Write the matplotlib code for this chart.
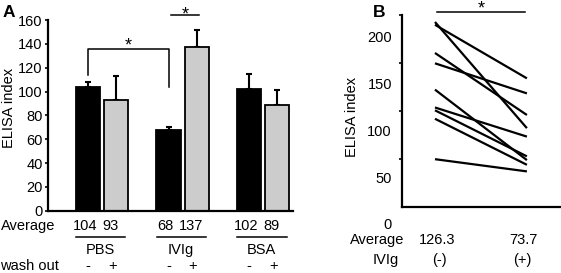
import matplotlib
matplotlib.use("Agg")
import matplotlib.pyplot as plt
import matplotlib.transforms as mtrans
import numpy as np

plt.rcParams["font.family"] = ["Liberation Sans", "DejaVu Sans"]
plt.rcParams["font.size"] = 10.5

# ── Data: panel A ────────────────────────────────────────────────────────────
groups = ["PBS", "IVIg", "BSA"]
no_wash = [104, 68, 102]
no_wash_err = [4, 2, 13]
wash = [93, 137, 89]
wash_err = [20, 15, 12]
wash_marks = ["-", "+"]

# ── Data: panel B (paired samples, before / after IVIg) ─────────────────────
ivig_minus = [216, 213, 183, 172, 144, 125, 122, 113, 70]
ivig_plus = [103, 156, 117, 140, 69, 94, 73, 64, 57]
avg_b = ["126.3", "73.7"]
ivig_marks = ["(-)", "(+)"]

W, H = 561, 273
fig = plt.figure(figsize=(W / 100, H / 100), dpi=100)


def fy(py):
    return 1 - py / H


# ── Panel A ─────────────────────────────────────────────────────────────────
axA = fig.add_axes([48.3 / W, fy(210.7), (293 - 48.3) / W, 190.7 / H])
x = np.arange(len(groups))
bw, off = 0.30, 0.175
axA.bar(x - off, no_wash, bw, color="black", edgecolor="black", lw=1.3, zorder=2)
axA.bar(x + off, wash, bw, color="#cccccc", edgecolor="black", lw=1.3, zorder=2)
for xs, vals, errs in [(x - off, no_wash, no_wash_err), (x + off, wash, wash_err)]:
    axA.errorbar(xs, vals, yerr=[np.zeros(len(vals)), errs], fmt="none",
                 ecolor="black", elinewidth=1.5, capsize=2.5, capthick=1.5, zorder=1)

axA.set_xlim(-0.667, 2.37)
axA.set_ylim(0, 160)
axA.set_yticks(range(0, 161, 20))
axA.set_xticks([])
for s in ["top", "right"]:
    axA.spines[s].set_visible(False)
for s in ["left", "bottom"]:
    axA.spines[s].set_linewidth(1.6)
axA.tick_params(axis="y", length=2.5, width=1.2, pad=1.5)

# significance brackets
axA.plot([x[0] - off, x[0] - off, x[1] - off, x[1] - off], [114, 135.6, 135.6, 103.4],
         color="black", lw=1.1, clip_on=False)
axA.text(0.32, 138.5, "*", ha="center", va="center", fontsize=13, clip_on=False)
axA.plot([0.857, 1.205], [164, 164], color="black", lw=1.1, clip_on=False)
axA.text(1.03, 164.5, "*", ha="center", va="center", fontsize=13, clip_on=False)

fig.text(9 / W, fy(108), "ELISA index", rotation=90, ha="center", va="center")
fig.text(3 / W, fy(16.7), "A", fontsize=12.5, fontweight="bold", va="baseline")

trA = mtrans.blended_transform_factory(axA.transData, fig.transFigure)
fig.text(1 / W, fy(225.7), "Average", ha="left", va="center")
fig.text(0 / W, fy(265.7), "wash out", ha="left", va="center")
for i, g in enumerate(groups):
    axA.text(x[i] - off - 0.04, fy(225.7), str(no_wash[i]), transform=trA,
             ha="center", va="center")
    axA.text(x[i] + off - 0.07, fy(225.7), str(wash[i]), transform=trA,
             ha="center", va="center")
    axA.plot([x[i] - 0.32, x[i] + 0.29], [fy(236.7)] * 2, transform=trA,
             color="black", lw=1.1, clip_on=False)
    axA.text(x[i] - 0.02, fy(250), g, transform=trA, ha="center", va="center")
    axA.text(x[i] - off, fy(265.7), wash_marks[0], transform=trA,
             ha="center", va="center")
    axA.text(x[i] + off - 0.05, fy(265.7), wash_marks[1], transform=trA,
             ha="center", va="center")

# ── Panel B ─────────────────────────────────────────────────────────────────
axB = fig.add_axes([401.7 / W, fy(207.3), (560 - 401.7) / W, (207.3 - 15) / H])
for a, b in zip(ivig_minus, ivig_plus):
    axB.plot([0, 1], [a, b], color="black", lw=1.6, solid_capstyle="butt")

axB.set_xlim(-0.362, 1.36)
axB.set_ylim(18.8, 223.4)
axB.set_xticks([])
axB.set_yticks([50, 100, 150, 200])
axB.set_yticks([70, 121, 172, 223], minor=True)
axB.tick_params(axis="y", which="major", length=0, pad=7)
axB.tick_params(axis="y", which="minor", length=2.5, width=1.2)
for s in ["top", "right"]:
    axB.spines[s].set_visible(False)
for s in ["left", "bottom"]:
    axB.spines[s].set_linewidth(1.6)

axB.plot([0.02, 0.98], [226.3, 226.3], color="black", lw=1.1, clip_on=False)
axB.text(0.5, 229.5, "*", ha="center", va="center", fontsize=13, clip_on=False)

fig.text(352 / W, fy(117), "ELISA index", rotation=90, ha="center", va="center")
fig.text(373 / W, fy(17), "B", fontsize=12.5, fontweight="bold", va="baseline")

fig.text(391.7 / W, fy(225), "0", ha="right", va="center")
fig.text(377 / W, fy(240), "Average", ha="center", va="center")
fig.text(385.5 / W, fy(260), "IVIg", ha="center", va="center")
trB = mtrans.blended_transform_factory(axB.transData, fig.transFigure)
for i in range(2):
    axB.text(i + 0.02 - 0.06 * i, fy(240), avg_b[i], transform=trB,
             ha="center", va="center")
    axB.text(i + 0.05 - 0.1 * i, fy(260), ivig_marks[i], transform=trB,
             ha="center", va="center")

fig.savefig("out.png", dpi=100, facecolor="white")
